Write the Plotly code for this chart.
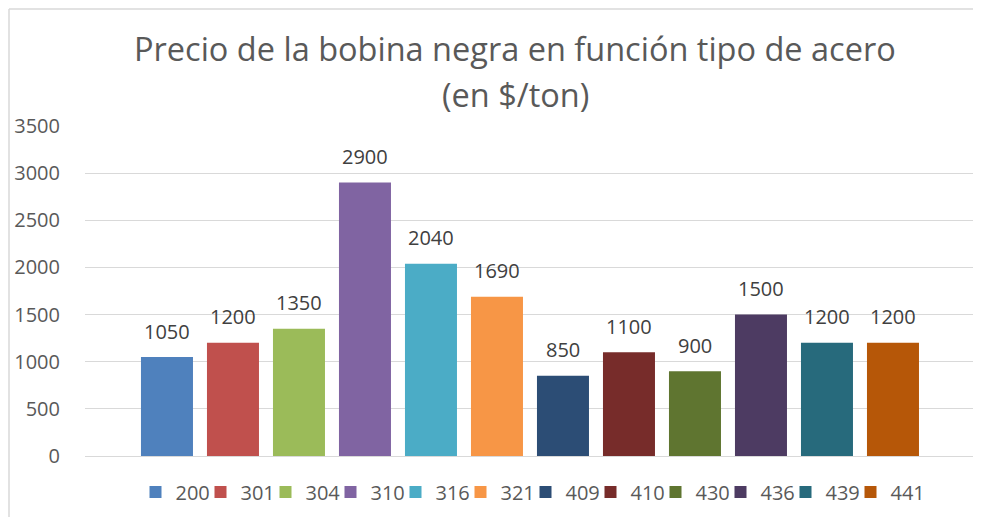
import plotly.graph_objects as go

steel_types = ["200", "301", "304", "310", "316", "321", "409", "410", "430", "436", "439", "441"]
prices = [1050, 1200, 1350, 2900, 2040, 1690, 850, 1100, 900, 1500, 1200, 1200]
colors = ["#4F81BD", "#C0504D", "#9BBB59", "#8064A2", "#4BACC6", "#F79646",
          "#2C4D75", "#772C2A", "#5F7530", "#4D3B62", "#276A7C", "#B65708"]
y_ticks = [0, 500, 1000, 1500, 2000, 2500, 3000, 3500]
title_lines = ["Precio de la bobina negra en función tipo de acero", "(en $/ton)"]

FONT = "Open Sans"
GREY = "#595959"

# page body has an 8px default margin; work in window pixels and convert
OFF = 8
W, H = 981 - OFF, 517 - OFF
L = 85 - OFF
R = (981 - OFF) - (976 - OFF)
T = 126 - OFF
B = H - (456 - OFF)
pw, ph = W - L - R, H - T - B


def px_x(x):
    return (x - OFF - L) / pw


def px_y(y):
    return 1 + (T - (y - OFF)) / ph


fig = go.Figure()
for name, val, col in zip(steel_types, prices, colors):
    fig.add_trace(go.Bar(x=[name], y=[val], name=name, marker_color=col,
                         marker_line_width=0, hoverinfo="name+y"))
# invisible spacer entry so the last legend label is not clipped
fig.add_trace(go.Bar(x=[steel_types[-1]], y=[0], name=" ", showlegend=True, opacity=0,
                     marker_color="rgba(0,0,0,0)", marker_line_width=0, hoverinfo="skip"))

annotations = []
for i, val in enumerate(prices):
    annotations.append(dict(x=i, y=val, xref="x", yref="y", text=str(val),
                            showarrow=False, yanchor="middle", yshift=26,
                            font=dict(family=FONT, size=20, color="#404040")))

for txt, ypix in zip(title_lines, [48, 95]):
    annotations.append(dict(text=txt, x=px_x(515), y=px_y(ypix), xref="paper", yref="paper",
                            xanchor="center", yanchor="middle", showarrow=False,
                            font=dict(family=FONT, size=32.5, color=GREY)))

fig.update_layout(
    width=W, height=H,
    margin=dict(l=L, r=R, t=T, b=B),
    paper_bgcolor="white", plot_bgcolor="white",
    barmode="overlay", bargap=0.212,
    showlegend=True,
    legend=dict(orientation="h", xref="container", x=(558 - OFF) / W, xanchor="center",
                yref="container", y=1 - (492 - OFF) / H, yanchor="middle",
                font=dict(family=FONT, size=20, color=GREY),
                entrywidth=20, entrywidthmode="pixels", itemclick=False,
                traceorder="normal", bgcolor="rgba(0,0,0,0)"),
    annotations=annotations,
    xaxis=dict(type="category", range=[-1.242, 12.258], showticklabels=False,
               showgrid=False, zeroline=False, showline=False, fixedrange=True,
               automargin=False),
    yaxis=dict(range=[0, 3500], tickvals=y_ticks, showgrid=True, gridcolor="#D9D9D9",
               gridwidth=1, zeroline=True, zerolinecolor="#D9D9D9", zerolinewidth=1,
               tickfont=dict(family=FONT, size=20, color=GREY), ticklabelstandoff=24,
               showline=False, automargin=False),
    shapes=[
        dict(type="line", xref="paper", yref="paper", x0=px_x(9), x1=px_x(981),
             y0=px_y(9), y1=px_y(9), line=dict(color="#D9D9D9", width=1.5)),
        dict(type="line", xref="paper", yref="paper", x0=px_x(9), x1=px_x(9),
             y0=px_y(9), y1=px_y(517), line=dict(color="#D9D9D9", width=1.5)),
    ],
)

fig.write_html("out.html")
